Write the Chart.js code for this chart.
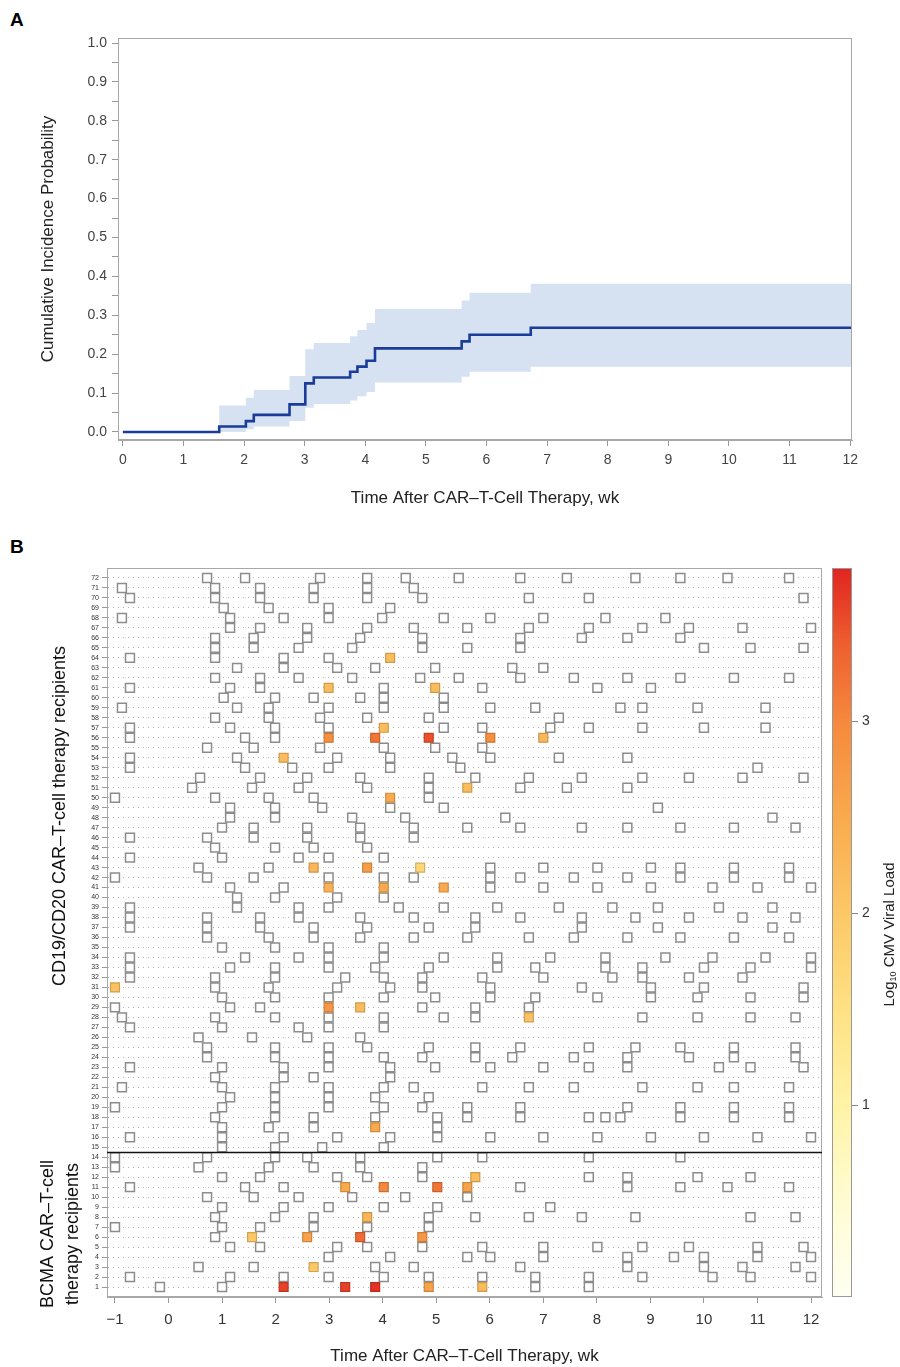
<!DOCTYPE html>
<html>
<head>
<meta charset="utf-8">
<script src="https://cdn.jsdelivr.net/npm/chart.js@4.4.1/dist/chart.umd.min.js"></script>
<style>
body { margin: 0; background: #fff; width: 900px; height: 1367px; position: relative; font-family: "Liberation Sans", Arial, sans-serif; }
.panel { position: absolute; font-weight: bold; font-size: 19px; color: #000; }
#wrapA { position: absolute; left: 0; top: 0; width: 900px; height: 530px; }
#wrapB { position: absolute; left: 0; top: 540px; width: 900px; height: 827px; }
</style>
</head>
<body>
<div class="panel" style="left:10px;top:9px">A</div>
<div class="panel" style="left:10px;top:536px">B</div>
<div id="wrapA"><canvas id="chartA" width="900" height="530"></canvas></div>
<div id="wrapB"><canvas id="chartB" width="900" height="827"></canvas></div>
<script>
// ---- panel A : cumulative incidence ----
const stepWeeks = [0, 1.59, 2.03, 2.16, 2.75, 3.01, 3.15, 3.75, 3.87, 4.02, 4.16, 5.59, 5.72, 6.73, 12.05];
const cumInc    = [0, 0.014, 0.028, 0.044, 0.071, 0.125, 0.14, 0.155, 0.168, 0.183, 0.215, 0.233, 0.25, 0.268, 0.268];
const ciLower   = [0, 0, 0.007, 0.014, 0.028, 0.062, 0.072, 0.081, 0.092, 0.103, 0.127, 0.142, 0.155, 0.168, 0.168];
const ciUpper   = [0, 0.068, 0.088, 0.108, 0.144, 0.213, 0.229, 0.246, 0.262, 0.28, 0.316, 0.338, 0.358, 0.381, 0.381];
const weekTicksA = [0, 1, 2, 3, 4, 5, 6, 7, 8, 9, 10, 11, 12];
const probTicks = [0, 0.05, 0.1, 0.15, 0.2, 0.25, 0.3, 0.35, 0.4, 0.45, 0.5, 0.55, 0.6, 0.65, 0.7, 0.75, 0.8, 0.85, 0.9, 0.95, 1.0];

// ---- panel B : visits per patient (weeks), top row = patient 72 ----
const cd19Weeks = [
  [0.72, 1.43, 2.83, 3.71, 4.43, 5.42, 6.57, 7.44, 8.72, 9.56, 10.44, 11.59],
  [-0.87, 0.87, 1.71, 2.71, 3.71, 4.58],
  [-0.72, 0.87, 1.71, 2.71, 3.71, 4.74, 6.73, 7.85, 11.86],
  [1.03, 1.87, 2.99, 4.14],
  [-0.87, 1.15, 2.15, 2.99, 3.99, 5.14, 6.01, 7.0, 8.16, 9.28],
  [1.15, 1.71, 2.59, 3.71, 4.58, 5.58, 6.73, 7.85, 8.85, 9.72, 10.72, 12.0],
  [0.87, 1.59, 2.59, 3.58, 4.74, 6.57, 7.72, 8.57, 9.56],
  [0.87, 1.59, 2.43, 3.43, 4.74, 5.58, 6.57, 10.0, 10.87, 11.86],
  [-0.72, 0.87, 2.15, 2.99],
  [1.28, 2.15, 3.15, 3.86, 4.98, 6.42, 7.0],
  [0.87, 1.71, 2.43, 3.43, 4.7, 5.42, 6.57, 7.57, 8.57, 9.56, 10.56, 11.59],
  [-0.72, 1.15, 1.71, 4.02, 5.86, 8.01, 9.01],
  [1.03, 1.99, 2.71, 3.58, 4.02, 5.14],
  [-0.87, 1.28, 1.87, 2.99, 4.02, 5.14, 6.01, 6.85, 8.44, 8.85, 9.88, 11.15],
  [0.87, 1.87, 2.83, 3.71, 4.86, 7.29],
  [-0.72, 1.15, 1.99, 2.99, 5.14, 5.86, 7.13, 7.85, 8.85, 10.0, 11.15],
  [-0.72, 1.43, 1.99],
  [0.72, 1.59, 2.83, 4.02, 4.98, 5.86],
  [-0.72, 1.28, 3.15, 4.14, 5.3, 6.01, 7.29, 8.57],
  [-0.72, 1.43, 2.31, 2.99, 4.14, 5.45, 11.0],
  [0.59, 1.71, 2.59, 3.58, 4.86, 5.73, 6.73, 7.72, 8.85, 9.72, 10.72, 11.86],
  [0.44, 1.56, 2.43, 3.71, 4.86, 6.57, 7.44, 8.57],
  [-1.0, 0.87, 1.87, 2.71, 4.86],
  [1.15, 1.99, 2.87, 4.14, 5.14, 9.14],
  [1.15, 1.99, 3.43, 4.42, 6.29, 11.28],
  [1.0, 1.59, 2.59, 3.58, 4.58, 5.58, 6.57, 7.72, 8.57, 9.56, 10.56, 11.71],
  [-0.72, 0.72, 1.59, 2.59, 3.58, 4.58],
  [0.87, 1.99, 2.71, 3.71],
  [-0.72, 1.0, 2.43, 2.99, 4.02],
  [0.56, 1.87, 6.01, 7.0, 8.01, 9.01, 9.56, 10.56, 11.59],
  [-1.0, 0.72, 1.59, 2.99, 4.02, 4.58, 6.01, 6.57, 7.57, 8.57, 9.56, 10.56, 11.59],
  [1.15, 2.15, 6.01, 7.0, 8.01, 9.01, 10.16, 11.0, 12.0],
  [1.28, 1.99, 3.15, 4.02],
  [-0.72, 1.28, 2.43, 2.99, 4.3, 5.14, 6.14, 7.29, 8.29, 9.14, 10.28, 11.28],
  [-0.72, 0.72, 1.71, 2.43, 3.58, 4.58, 5.73, 6.57, 7.72, 8.72, 9.72, 10.72, 11.71],
  [-0.72, 0.72, 1.71, 2.71, 3.71, 4.86, 5.73, 7.72, 9.14, 11.28],
  [0.72, 1.87, 2.71, 3.58, 4.58, 5.58, 6.73, 7.57, 8.57, 9.56, 10.56, 11.59],
  [1.0, 1.99, 2.99, 4.02],
  [-0.72, 1.43, 2.43, 2.99, 4.02, 5.14, 6.14, 7.13, 8.16, 9.28, 10.16, 11.15, 12.0],
  [-0.72, 1.15, 1.99, 2.99, 3.86, 4.86, 6.14, 6.85, 8.16, 8.85, 10.0, 10.87, 12.0],
  [-0.72, 0.87, 1.99, 3.3, 4.02, 4.74, 5.86, 7.0, 8.29, 8.85, 9.72, 10.72],
  [0.87, 1.87, 3.15, 4.14, 4.74, 6.01, 7.72, 9.01, 10.0, 11.86],
  [1.0, 1.99, 2.99, 4.02, 4.98, 6.01, 6.85, 8.01, 9.01, 9.88, 10.87, 11.86],
  [-1.0, 1.15, 1.71, 4.74, 5.73, 6.73],
  [-0.87, 0.87, 1.99, 2.99, 4.02, 5.14, 5.73, 8.85, 9.88, 10.87, 11.71],
  [-0.72, 1.0, 2.43, 2.99, 4.02],
  [0.56, 1.56, 2.59, 3.58],
  [0.72, 1.99, 2.99, 3.71, 4.86, 5.73, 6.57, 7.85, 8.72, 9.56, 10.56, 11.71],
  [0.72, 1.99, 2.99, 4.02, 4.74, 5.73, 6.42, 7.57, 8.57, 9.72, 10.56, 11.71],
  [-0.72, 1.0, 2.15, 2.99, 4.14, 4.98, 6.01, 7.0, 7.85, 8.57, 10.28, 10.87, 11.86],
  [0.87, 2.15, 2.71, 4.14],
  [-0.87, 1.0, 1.99, 2.99, 4.02, 4.58, 5.86, 6.73, 7.57, 8.85, 9.88, 10.56, 11.59],
  [1.15, 1.99, 2.99, 3.86, 4.86],
  [-1.0, 1.0, 1.99, 2.99, 4.02, 4.74, 5.58, 6.57, 8.57, 9.56, 10.56, 11.59],
  [0.87, 1.99, 2.71, 3.86, 5.02, 5.58, 6.57, 7.85, 8.16, 8.44, 9.56, 10.56, 11.59],
  [1.0, 1.87, 2.71, 5.02],
  [-0.72, 1.0, 2.15, 3.15, 4.14, 5.02, 6.01, 7.0, 8.01, 9.01, 10.0, 11.0, 12.0],
  [1.0, 1.99, 2.87, 4.02]
];
// top row = patient 14
const bcmaWeeks = [
  [-1.0, 0.72, 1.99, 2.59, 3.58, 5.02, 5.86, 7.85, 9.56],
  [-1.0, 0.56, 1.87, 2.71, 3.58, 4.74],
  [1.0, 1.71, 3.15, 3.71, 4.74, 7.85, 8.57, 9.88, 10.87],
  [-0.72, 1.43, 2.15, 6.57, 8.57, 9.56, 10.44, 11.59],
  [0.72, 1.59, 2.43, 3.43, 4.42, 5.58],
  [1.0, 2.15, 2.99, 4.02, 5.02, 7.13],
  [0.87, 1.99, 2.71, 4.86, 5.73, 6.73, 7.72, 8.72, 10.87, 11.71],
  [-1.0, 1.0, 1.71, 2.71, 3.71, 4.86],
  [0.87],
  [1.15, 1.71, 3.15, 3.71, 4.74, 5.86, 7.0, 8.01, 8.85, 9.72, 11.0, 11.86],
  [2.99, 4.14, 5.58, 6.01, 7.0, 8.57, 9.44, 10.0, 11.0, 12.0],
  [0.56, 1.59, 3.86, 4.58, 6.57, 8.57, 10.0, 10.72, 11.71],
  [-0.72, 1.15, 2.15, 2.99, 4.02, 4.86, 5.86, 6.85, 7.85, 8.85, 10.16, 10.87, 12.0],
  [-0.16, 1.0, 6.85, 7.85]
];
// detectable CMV (log10 viral load)
const cmvPatients = [64, 61, 61, 57, 56, 56, 56, 56, 56, 54, 51, 50, 43, 43, 43, 41, 41, 41, 31, 29, 29, 28, 17, 12, 11, 11, 11, 11, 8, 6, 6, 6, 6, 3, 1, 1, 1, 1, 1];
const cmvWeeks    = [4.14, 2.99, 4.98, 4.02, 2.99, 3.86, 4.86, 6.01, 7.0, 2.15, 5.58, 4.14, 2.71, 3.71, 4.7, 2.99, 4.02, 5.14, -1.0, 2.99, 3.58, 6.73, 3.86, 5.73, 3.3, 4.02, 5.02, 5.58, 3.71, 1.56, 2.59, 3.58, 4.74, 2.71, 2.15, 3.3, 3.86, 4.86, 5.86];
const cmvLoads    = [2.2, 2.2, 2.2, 2.2, 2.9, 3.2, 3.5, 2.9, 2.3, 2.2, 2.2, 2.5, 2.3, 2.7, 1.7, 2.4, 2.5, 2.5, 2.1, 2.8, 2.2, 2.1, 2.5, 2.2, 2.5, 3.0, 3.2, 2.6, 2.3, 2.0, 2.6, 3.3, 2.8, 2.0, 3.6, 3.6, 3.7, 2.6, 2.2];
const weekTicksB = [-1, 0, 1, 2, 3, 4, 5, 6, 7, 8, 9, 10, 11, 12];
const loadTicks = [1, 2, 3];
const loadMax = 3.8;

const colorStops = [[0, '#fffff2'], [0.5, '#fffcd2'], [1, '#fff3a6'], [1.5, '#fee184'], [2, '#fcc866'],
  [2.5, '#f9aa4e'], [3, '#f5893d'], [3.4, '#ee5f30'], [3.8, '#e02420']];

function hexRgb(h) { return [1, 3, 5].map(i => parseInt(h.substr(i, 2), 16)); }
function loadColor(v, dark) {
  let i = 0;
  while (i < colorStops.length - 2 && v > colorStops[i + 1][0]) i++;
  const [v0, c0] = colorStops[i], [v1, c1] = colorStops[i + 1];
  const t = Math.max(0, Math.min(1, (v - v0) / (v1 - v0)));
  const a = hexRgb(c0), b = hexRgb(c1);
  const k = dark ? 0.82 : 1;
  const rgb = a.map((x, j) => Math.round((x + (b[j] - x) * t) * k));
  return 'rgb(' + rgb.join(',') + ')';
}

const FONT = '"Liberation Sans", Arial, sans-serif';
Chart.defaults.font.family = FONT;
Chart.defaults.color = '#333';

const frame = {
  id: 'frame',
  afterDraw(chart) {
    const a = chart.chartArea, c = chart.ctx;
    c.save();
    c.strokeStyle = '#a8a8a8';
    c.lineWidth = 1;
    c.strokeRect(a.left + 0.5, a.top + 0.5, a.right - a.left - 1, a.bottom - a.top - 1);
    c.restore();
  }
};

// ---- chart A ----
const toXY = arr => stepWeeks.map((w, i) => ({ x: w, y: arr[i] }));
new Chart(document.getElementById('chartA').getContext('2d'), {
  type: 'line',
  data: {
    datasets: [
      { data: toXY(cumInc), borderColor: '#1b3c98', borderWidth: 2.6, stepped: true, pointRadius: 0, fill: false },
      { data: toXY(ciLower), borderColor: 'rgba(0,0,0,0)', borderWidth: 1, stepped: true, pointRadius: 0, fill: false },
      { data: toXY(ciUpper), borderColor: 'rgba(0,0,0,0)', borderWidth: 1, stepped: true, pointRadius: 0, fill: '-1', backgroundColor: '#d6e2f2' }
    ]
  },
  options: {
    responsive: false, animation: false, events: [],
    layout: { padding: { left: 34, top: 38, right: 48, bottom: 19 } },
    plugins: { legend: { display: false }, tooltip: { enabled: false } },
    scales: {
      x: {
        type: 'linear', min: -0.08, max: 12.03,
        afterBuildTicks: s => { s.ticks = weekTicksA.map(v => ({ value: v })); },
        afterFit: s => { s.height = 71; },
        grid: { drawOnChartArea: false, tickLength: 6, color: '#999' },
        border: { color: '#a8a8a8' },
        ticks: { font: { size: 14 }, color: '#444', padding: 6, maxRotation: 0 },
        title: { display: true, text: 'Time After CAR–T-Cell Therapy, wk', font: { size: 17 }, color: '#222', padding: { top: 0, bottom: 2 } }
      },
      y: {
        min: -0.0206, max: 1.0129,
        afterBuildTicks: s => { s.ticks = probTicks.map(v => ({ value: v })); },
        afterFit: s => { s.width = 84; },
        grid: { drawOnChartArea: false, tickLength: 6, color: '#999' },
        border: { color: '#a8a8a8' },
        ticks: {
          autoSkip: false, font: { size: 14 }, color: '#444', padding: 5,
          callback: v => Math.abs(v * 10 - Math.round(v * 10)) < 1e-6 ? v.toFixed(1) : ''
        },
        title: { display: true, text: 'Cumulative Incidence Probability', font: { size: 17 }, color: '#222' }
      }
    }
  },
  plugins: [frame]
});

// ---- chart B ----
const visitPoints = [];
cd19Weeks.forEach((weeks, i) => weeks.forEach(w => visitPoints.push({ x: w, y: 72 - i })));
bcmaWeeks.forEach((weeks, i) => weeks.forEach(w => visitPoints.push({ x: w, y: 14 - i })));
const cmvPoints = cmvWeeks.map((w, i) => ({ x: w, y: cmvPatients[i] }));

const panelB = {
  id: 'panelB',
  afterDraw(chart) {
    const a = chart.chartArea, c = chart.ctx, ys = chart.scales.y;
    c.save();
    // cohort separator
    const ySep = Math.round(ys.getPixelForValue(14.5)) + 0.5;
    c.strokeStyle = '#111';
    c.lineWidth = 1.6;
    c.beginPath(); c.moveTo(a.left, ySep); c.lineTo(a.right, ySep); c.stroke();

    // colour bar
    const x0 = a.right + 10, w = 20, top = a.top, bot = a.bottom;
    const g = c.createLinearGradient(0, bot, 0, top);
    colorStops.forEach(([v, col]) => g.addColorStop(v / loadMax, col));
    c.fillStyle = g;
    c.fillRect(x0, top, w, bot - top);
    c.strokeStyle = '#999'; c.lineWidth = 1;
    c.strokeRect(x0 + 0.5, top + 0.5, w - 1, bot - top - 1);
    c.fillStyle = '#333';
    c.font = '14px ' + FONT;
    c.textAlign = 'left'; c.textBaseline = 'middle';
    loadTicks.forEach(v => {
      const y = Math.round(bot - (v / loadMax) * (bot - top)) + 0.5;
      c.beginPath(); c.moveTo(x0 + w, y); c.lineTo(x0 + w + 6, y); c.strokeStyle = '#888'; c.stroke();
      c.fillText(String(v), x0 + w + 10, y);
    });

    // colour bar title: Log10 CMV Viral Load
    c.save();
    c.translate(x0 + w + 38, (top + bot) / 2 + 2);
    c.rotate(-Math.PI / 2);
    c.fillStyle = '#222';
    c.textBaseline = 'middle';
    const f1 = '15px ' + FONT, f2 = '9px ' + FONT;
    c.font = f1; const wa = c.measureText('Log').width, wc = c.measureText(' CMV Viral Load').width;
    c.font = f2; const wb = c.measureText('10').width;
    let xs = -(wa + wb + wc) / 2;
    c.font = f1; c.textAlign = 'left'; c.fillText('Log', xs, 0); xs += wa;
    c.font = f2; c.fillText('10', xs, 4); xs += wb;
    c.font = f1; c.fillText(' CMV Viral Load', xs, 0);
    c.restore();

    // cohort labels
    c.fillStyle = '#111';
    c.font = '18px ' + FONT;
    c.textAlign = 'center'; c.textBaseline = 'middle';
    const rot = (txt, x, y) => { c.save(); c.translate(x, y); c.rotate(-Math.PI / 2); c.fillText(txt, 0, 0); c.restore(); };
    rot('CD19/CD20 CAR–T-cell therapy recipients', 60, 276);
    rot('BCMA CAR–T-cell', 48, 694);
    rot('therapy recipients', 73, 694);
    c.restore();
  }
};

new Chart(document.getElementById('chartB').getContext('2d'), {
  type: 'scatter',
  data: {
    datasets: [
      {
        data: cmvPoints, pointStyle: 'rect', pointRadius: 6.3, borderWidth: 1.2,
        backgroundColor: cmvLoads.map(v => loadColor(v, false)),
        borderColor: cmvLoads.map(v => loadColor(v, true))
      },
      {
        data: visitPoints, pointStyle: 'rect', pointRadius: 6.3, borderWidth: 1.5,
        backgroundColor: '#fff', borderColor: '#8c8c8c'
      }
    ]
  },
  options: {
    responsive: false, animation: false, events: [],
    layout: { padding: { left: 0, top: 28, right: 78, bottom: 0 } },
    plugins: { legend: { display: false }, tooltip: { enabled: false } },
    scales: {
      x: {
        type: 'linear', min: -1.149, max: 12.205,
        afterBuildTicks: s => { s.ticks = weekTicksB.map(v => ({ value: v })); },
        afterFit: s => { s.height = 70; },
        grid: { drawOnChartArea: false, tickLength: 6, color: '#999' },
        border: { color: '#a8a8a8' },
        ticks: { font: { size: 15 }, color: '#333', padding: 8, maxRotation: 0,
          callback: v => v < 0 ? '−' + Math.abs(v) : String(v) },
        title: { display: true, text: 'Time After CAR–T-Cell Therapy, wk', font: { size: 17 }, color: '#222', padding: { top: 0, bottom: 0 } }
      },
      y: {
        min: 0, max: 73,
        afterBuildTicks: s => { s.ticks = Array.from({ length: 72 }, (_, i) => ({ value: i + 1 })); },
        afterFit: s => { s.width = 107; },
        grid: { drawOnChartArea: true, tickLength: 5, color: '#b4b4b4', lineWidth: 1, tickColor: '#999' },
        border: { color: '#a8a8a8', dash: [1, 4] },
        ticks: { autoSkip: false, font: { size: 7 }, color: '#333', padding: 3 }
      }
    }
  },
  plugins: [frame, panelB]
});
</script>
</body>
</html>
